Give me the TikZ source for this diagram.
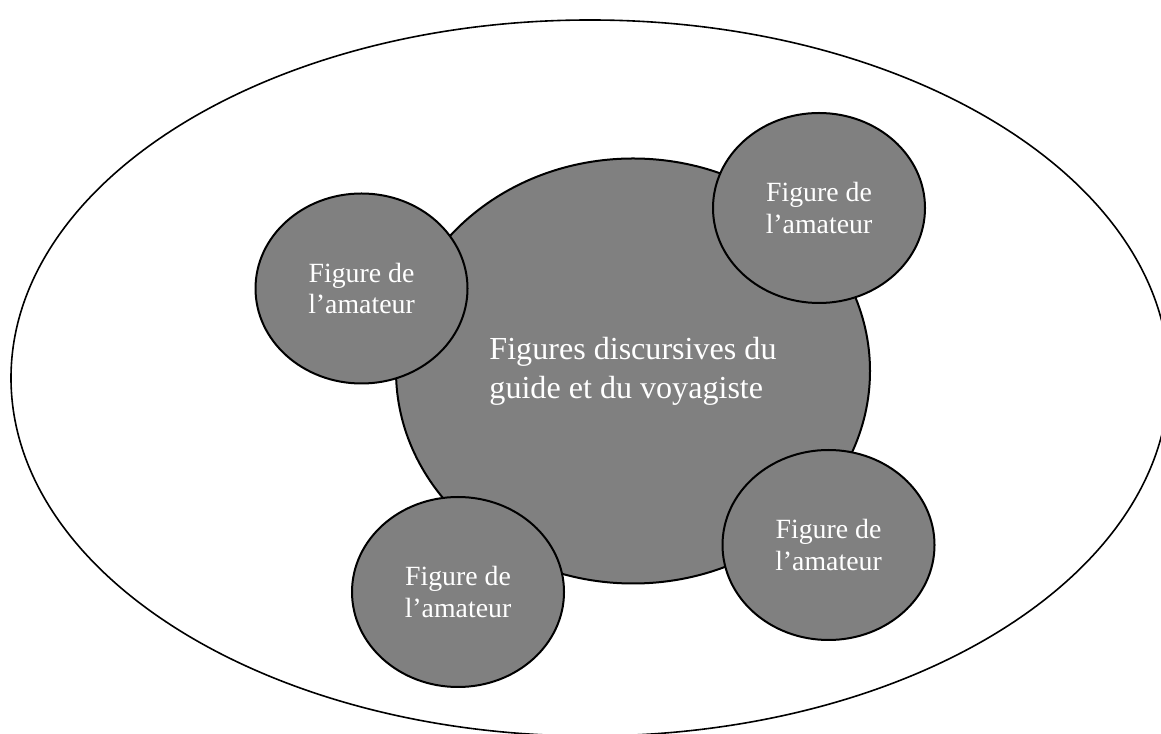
\documentclass[tikz,border=0pt]{standalone}
\usepackage{fontspec}
\setmainfont{Liberation Serif}
\usetikzlibrary{shapes.geometric}

\tikzset{
  figshape/.style={ellipse, draw=black, fill=black!50, line width=2pt, text=white, inner sep=0pt},
  amateur/.style={figshape, minimum width=212pt, minimum height=190pt, align=center,
    font=\fontsize{27.8}{31.7}\selectfont},
}

\begin{document}
\begin{tikzpicture}[x=1pt,y=1pt]
\useasboundingbox (0,0) rectangle (1161,733);
\node[ellipse, draw=black, line width=1.6pt, minimum width=1158pt, minimum height=716pt] (outer) at (590,355) {};
\node[figshape, minimum width=474pt, minimum height=425pt, align=left,
  font=\fontsize{32.1}{39}\selectfont] (guide) at (633,362) {Figures discursives du\\guide et du voyagiste};
\node[amateur] (amtl) at (361.5,444.5) {Figure de\\l’amateur};
\node[amateur] (amtr) at (819,525) {Figure de\\l’amateur};
\node[amateur] (ambr) at (828.5,188) {Figure de\\l’amateur};
\node[amateur] (ambl) at (458,141) {Figure de\\l’amateur};
\end{tikzpicture}
\end{document}
